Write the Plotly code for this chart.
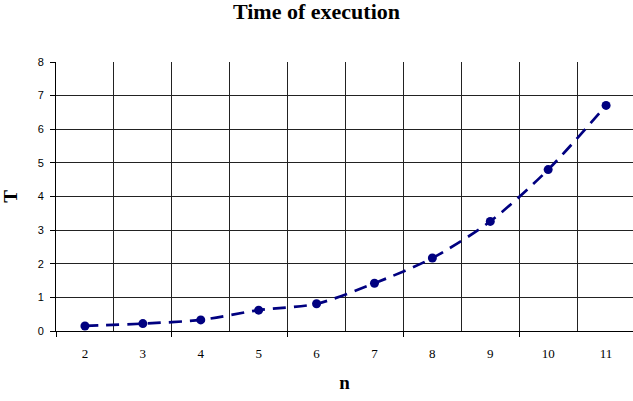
import plotly.graph_objects as go

n_values = [2, 3, 4, 5, 6, 7, 8, 9, 10, 11]
t_values = [0.15, 0.22, 0.33, 0.62, 0.81, 1.42, 2.17, 3.26, 4.80, 6.71]
y_ticks = [0, 1, 2, 3, 4, 5, 6, 7, 8]

pos = list(range(len(n_values)))
bounds = [p - 0.5 for p in pos]
NAVY = "#000080"

fig = go.Figure()
fig.add_trace(go.Scatter(
    x=pos, y=t_values, mode="lines+markers",
    line=dict(color=NAVY, width=2.7, dash="13px,8px", shape="spline", smoothing=0.8),
    marker=dict(color=NAVY, size=9, symbol="circle"),
    showlegend=False, hoverinfo="skip",
))
fig.add_trace(go.Scatter(x=[bounds[0]], y=[0], xaxis="x2", mode="markers",
                         marker=dict(opacity=0), showlegend=False, hoverinfo="skip"))

xr = [-0.5, len(pos) - 0.5 - 0.035]
fig.update_layout(
    width=633, height=401,
    paper_bgcolor="white", plot_bgcolor="white",
    margin=dict(l=56, r=0, t=62, b=70, autoexpand=False),
    title=dict(text="<b>Time of execution</b>", x=0.5, xanchor="center", y=0.972, yanchor="middle",
               font=dict(family="Liberation Serif", size=22, color="black")),
    xaxis=dict(
        range=xr, tickvals=pos, ticktext=[str(v) for v in n_values],
        showgrid=False, ticks="", zeroline=False, automargin=False,
        showline=True, linecolor="black", linewidth=1,
        tickfont=dict(family="Liberation Serif", size=13, color="black"),
        ticklabelstandoff=10,
        minor=dict(tickvals=bounds, showgrid=True, gridcolor="#222222", gridwidth=1, ticks=""),
        title=dict(text="<b>n</b>", standoff=16,
                   font=dict(family="Liberation Serif", size=19, color="black")),
    ),
    xaxis2=dict(
        range=xr, overlaying="x", side="bottom", anchor="y", automargin=False,
        tickvals=bounds[::2], ticks="outside", ticklen=5, tickcolor="black", tickwidth=1,
        showticklabels=False, showgrid=False, zeroline=False, showline=False,
    ),
    yaxis=dict(
        range=[0, 8], tickvals=y_ticks, ticks="outside", ticklen=5, tickcolor="black",
        showgrid=True, gridcolor="#222222", gridwidth=1, zeroline=False, automargin=False,
        showline=True, linecolor="black", linewidth=1,
        tickfont=dict(family="Liberation Sans", size=11, color="black"),
        ticklabelstandoff=4,
        title=dict(text="<b>T</b>", standoff=16,
                   font=dict(family="Liberation Serif", size=19, color="black")),
    ),
)
fig.write_html("out.html", config={"displayModeBar": False},
               post_script="document.body.style.margin='0';document.body.style.overflow='hidden';")
